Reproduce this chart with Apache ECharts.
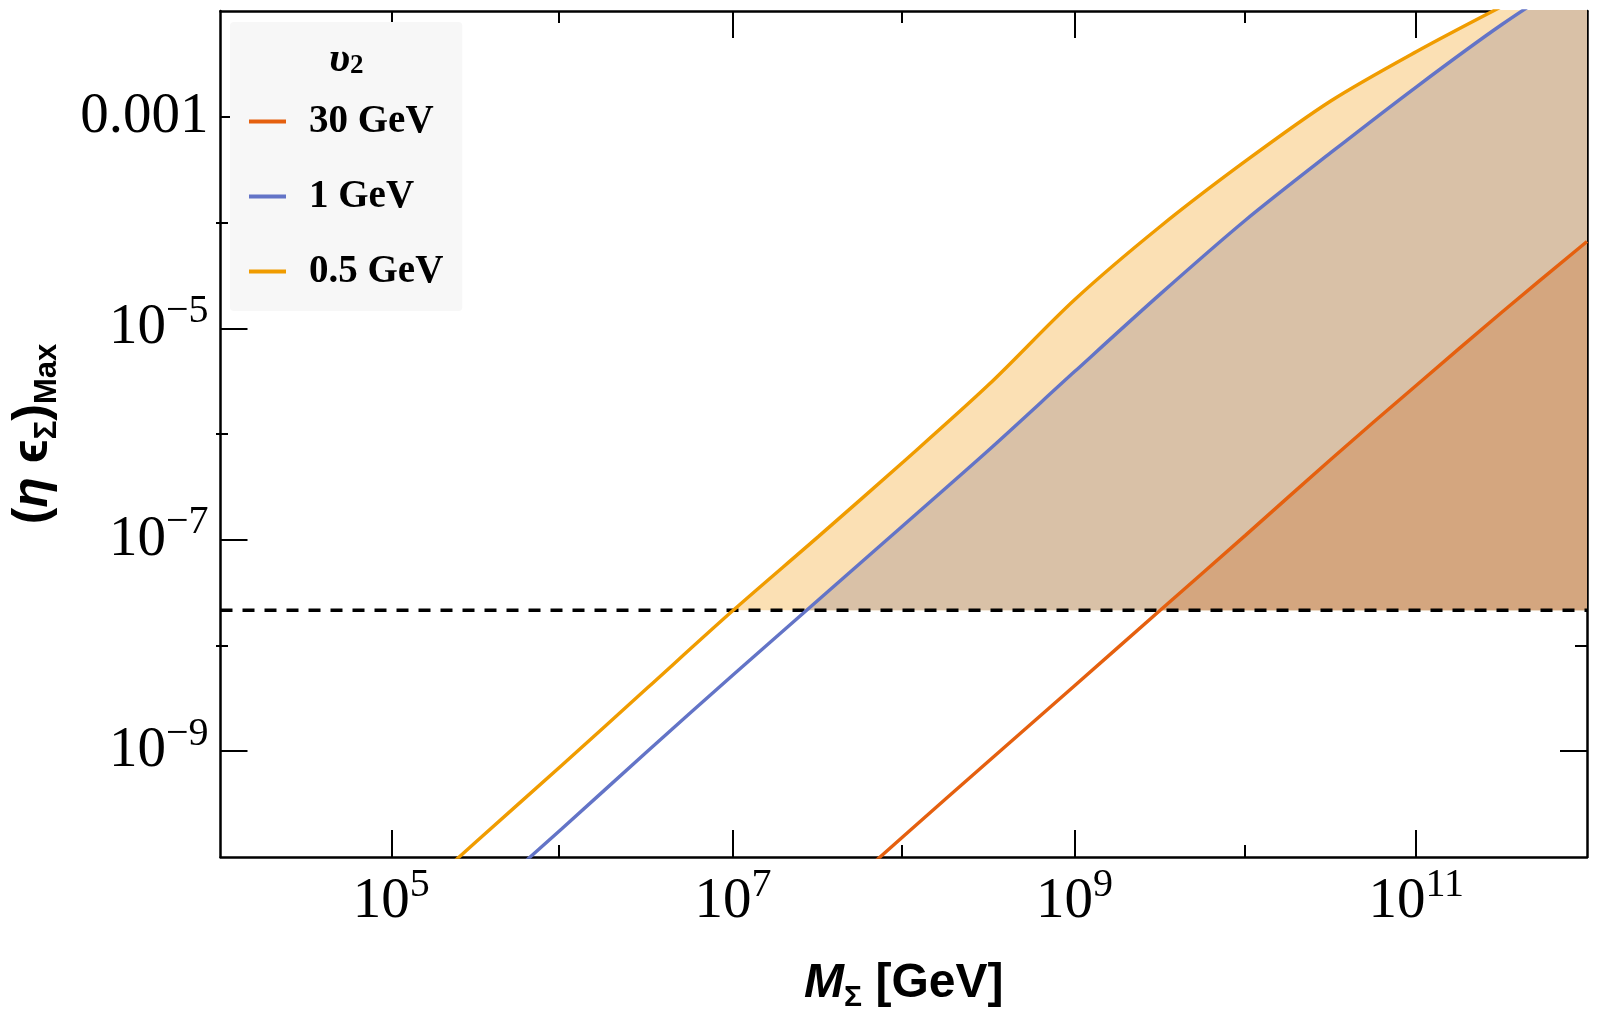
<!DOCTYPE html>
<html>
<head>
<meta charset="utf-8">
<title>(eta eps)_Max vs M_Sigma</title>
<script src="https://cdn.jsdelivr.net/npm/echarts@6.0.0/dist/echarts.min.js"></script>
<style>
  html, body { margin: 0; padding: 0; background: #fff; }
  #main { width: 1600px; height: 1020px; }
</style>
</head>
<body>
<div id="main"></div>
<script>
// M_Sigma in GeV, half-decade steps
var mass = [1e5, 3.16e5, 1e6, 3.16e6, 1e7, 3.16e7, 1e8, 3.16e8, 1e9, 3.16e9, 1e10, 3.16e10, 1e11, 3.16e11, 1e12];
// (eta eps)_Max, one list per v2
var v30 = [null, null, null, null, null, 3.02e-11, 1.58e-10, 8.13e-10, 4.17e-9, 2.14e-8, 1.10e-7, 5.75e-7, 2.88e-6, 1.41e-5, 6.61e-5];
var v1 = [null, 3.55e-11, 1.86e-10, 1.0e-9, 5.25e-9, 2.69e-8, 1.38e-7, 7.1e-7, 3.89e-6, 2.09e-5, 1.05e-4, 4.57e-4, 1.91e-3, 7.41e-3, 2.51e-2];
var v05 = [2.63e-11, 1.41e-10, 7.41e-10, 3.98e-9, 2.14e-8, 1.07e-7, 5.50e-7, 2.95e-6, 1.86e-5, 9.12e-5, 3.80e-4, 1.41e-3, 4.12e-3, 1.10e-2, 2.82e-2];

var names = ['30 GeV', '1 GeV', '0.5 GeV'];
var lineColors = ['#e5600f', '#6374c7', '#f09c00'];
var fillColors = ['#d4a67f', '#d9c1a7', '#fbe0b4'];
// where each curve meets the dashed limit
var crossMass = [3.2e9, 2.7e7, 1.0e7];
var limit = 2.15e-8;

var xMajor = [1e5, 1e7, 1e9, 1e11];
var xMinor = [1e6, 1e8, 1e10];
var yMajor = [1e-9, 1e-7, 1e-5, 1e-3];
var yMinor = [1e-8, 1e-6, 1e-4];

var serif = 'Liberation Serif';
var sans = 'Liberation Sans';

function pairs(vals) {
  var out = [];
  for (var i = 0; i < mass.length; i++) {
    if (vals[i] != null) out.push([mass[i], vals[i]]);
  }
  return out;
}
function fillPairs(vals, xc) {
  return [[xc, limit]].concat(pairs(vals).filter(function (p) { return p[0] > xc; }));
}

var curves = [v30, v1, v05];
var series = [];
// fills: widest first so the narrower ones sit on top
for (var k = 2; k >= 0; k--) {
  series.push({
    type: 'line', name: 'fill ' + names[k], data: fillPairs(curves[k], crossMass[k]),
    showSymbol: false, silent: true, smooth: 0.3,
    lineStyle: { opacity: 0 },
    itemStyle: { color: fillColors[k] },
    areaStyle: { color: fillColors[k], opacity: 1, origin: limit }
  });
}
series.push({
  type: 'line', name: 'limit', data: [[1e4, limit], [1e12, limit]],
  showSymbol: false, silent: true,
  lineStyle: { color: '#000', width: 3.5, type: [12, 10] }
});
for (var j = 0; j < 3; j++) {
  series.push({
    type: 'line', name: names[j], data: pairs(curves[j]),
    showSymbol: false, smooth: 0.3,
    itemStyle: { color: lineColors[j] },
    lineStyle: { color: lineColors[j], width: 3.4 }
  });
}

var tickRich = {
  b: { fontFamily: serif, fontSize: 57, color: '#000' },
  s: { fontFamily: serif, fontSize: 40, color: '#000', padding: [0, 0, 34, 0] }
};
var frame = { show: true, onZero: false, lineStyle: { color: '#000', width: 2.5 } };

function xAx(grid, pos, major) {
  var ax = {
    type: 'log', gridIndex: grid, position: pos, min: 1e4, max: 1e12,
    axisLine: major ? frame : { show: false },
    axisTick: { inside: true, length: major ? 27 : 12, customValues: major ? xMajor : xMinor,
      lineStyle: { color: '#000', width: 2 } },
    axisLabel: { show: false },
    splitLine: { show: false }
  };
  if (major && pos === 'bottom') {
    ax.axisLabel = {
      show: true, customValues: xMajor, margin: 8, rich: tickRich,
      formatter: function (v) { return '{b|10}{s|' + Math.round(Math.log10(v)) + '}'; }
    };
    ax.name = '{i|M}{sub|Σ}{n| [GeV]}';
    ax.nameLocation = 'middle';
    ax.nameGap = 98;
    ax.nameTextStyle = { rich: {
      i: { fontFamily: sans, fontWeight: 'bold', fontStyle: 'italic', fontSize: 48, color: '#000' },
      sub: { fontFamily: sans, fontWeight: 'bold', fontSize: 30, color: '#000', padding: [28, 0, 0, 0] },
      n: { fontFamily: sans, fontWeight: 'bold', fontSize: 48, color: '#000' }
    } };
  }
  return ax;
}
function yAx(grid, pos, major) {
  var ax = {
    type: 'log', gridIndex: grid, position: pos, min: 1e-10, max: 1e-2,
    axisLine: major ? frame : { show: false },
    axisTick: { inside: true, length: major ? 27 : 12, customValues: major ? yMajor : yMinor,
      lineStyle: { color: '#000', width: 2 } },
    axisLabel: { show: false },
    splitLine: { show: false }
  };
  if (major && pos === 'left') {
    ax.axisLabel = {
      show: true, customValues: yMajor, margin: 12, rich: tickRich,
      formatter: function (v) {
        var e = Math.round(Math.log10(v));
        if (e === -3) return '{b|0.001}';
        return '{b|10}{s|−' + (-e) + '}';
      }
    };
    ax.name = '{p|(}{i|η}{n| ϵ}{sub|Σ}{p|)}{sub|Max}';
    ax.nameLocation = 'middle';
    ax.nameGap = 158;
    ax.nameTextStyle = { rich: {
      p: { fontFamily: sans, fontWeight: 'bold', fontSize: 50, color: '#000' },
      i: { fontFamily: sans, fontWeight: 'bold', fontStyle: 'italic', fontSize: 50, color: '#000' },
      n: { fontFamily: sans, fontWeight: 'bold', fontSize: 50, color: '#000' },
      sub: { fontFamily: sans, fontWeight: 'bold', fontSize: 31, color: '#000', padding: [28, 0, 0, 0] }
    } };
  }
  return ax;
}

var myChart = echarts.init(document.getElementById('main'));
var option = {
  animation: false,
  backgroundColor: '#fff',
  title: {
    text: '{v|υ}{s|2}', left: 324, top: 33,
    textStyle: { rich: {
      v: { fontFamily: serif, fontStyle: 'italic', fontWeight: 'bold', fontSize: 43, color: '#000' },
      s: { fontFamily: serif, fontWeight: 'bold', fontSize: 27, color: '#000', padding: [14, 0, 0, 0] }
    } }
  },
  legend: {
    data: names, orient: 'vertical', left: 230, top: 22,
    backgroundColor: '#f7f7f7', borderRadius: 4,
    padding: [80, 19, 20, 19],
    icon: 'rect', itemWidth: 37, itemHeight: 4, itemGap: 36,
    selectedMode: false,
    textStyle: { fontFamily: serif, fontWeight: 'bold', fontSize: 39, color: '#000', padding: [0, 0, 0, 18] }
  },
  grid: [
    { left: 216, top: 11, width: 1371, height: 846 },
    { left: 216, top: 11, width: 1371, height: 846 }
  ],
  xAxis: [xAx(0, 'bottom', true), xAx(0, 'top', true), xAx(1, 'bottom', false), xAx(1, 'top', false)],
  yAxis: [yAx(0, 'left', true), yAx(0, 'right', true), yAx(1, 'left', false), yAx(1, 'right', false)],
  series: series
};
myChart.setOption(option);
</script>
</body>
</html>
